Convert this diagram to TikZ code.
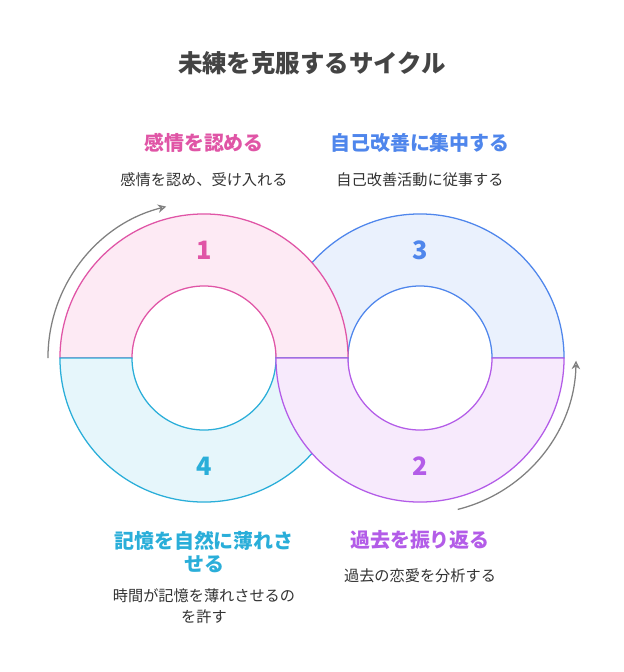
\documentclass[tikz,border=0pt]{standalone}
\usepackage{fontspec}
\setmainfont{Noto Sans CJK JP}
\usetikzlibrary{arrows.meta,calc}

\definecolor{pinkline}{HTML}{E055A6}
\definecolor{pinkfill}{HTML}{FDEAF4}
\definecolor{cyanline}{HTML}{2AAED9}
\definecolor{cyanfill}{HTML}{E6F6FB}
\definecolor{blueline}{HTML}{4F86EC}
\definecolor{bluefill}{HTML}{EAF1FD}
\definecolor{purpline}{HTML}{B35CE8}
\definecolor{purpfill}{HTML}{F7EAFC}
\definecolor{titlegray}{HTML}{444444}
\definecolor{descgray}{HTML}{333333}

\tikzset{
  head/.style = {font=\bfseries\fontsize{14.2}{17}\selectfont, align=center},
  desc/.style = {font=\fontsize{10.8}{15}\selectfont, text=descgray, align=center},
  num/.style  = {font=\bfseries\fontsize{18}{21}\selectfont},
  cycarrow/.style = {-{Stealth[length=6pt,width=6pt,open]}, gray, line width=0.9pt}
}

% half ring: center, start angle, fill, line
\newcommand{\halfring}[4]{%
  \draw[fill=#3, draw=#4, line width=0.9pt]
    ($(#1)+(#2:3.6cm)$) arc[start angle=#2, delta angle=-180, radius=3.6cm]
    -- ($(#1)+(#2-180:1.8cm)$) arc[start angle=#2-180, delta angle=180, radius=1.8cm]
    -- cycle;}

\begin{document}
\begin{tikzpicture}[x=0.025cm,y=0.025cm]
\useasboundingbox[fill=white] (0,0) rectangle (624,-672);

\coordinate (L) at (204,-358);
\coordinate (R) at (420,-358);

% rings
\halfring{R}{180}{bluefill}{blueline}
\halfring{L}{180}{pinkfill}{pinkline}
\halfring{L}{0}{cyanfill}{cyanline}
\halfring{R}{0}{purpfill}{purpline}

% cycle arrows
\draw[cycarrow] ($(L)+(180:3.9cm)$) arc[start angle=180, end angle=104, radius=3.9cm];
\draw[cycarrow] ($(R)+(-76:3.9cm)$) arc[start angle=-76, end angle=-1, radius=3.9cm];

\node[font=\bfseries\fontsize{17.4}{20}\selectfont, text=titlegray] (title) at (312,-63) {未練を克服するサイクル};

\node[num, text=pinkline] (n1) at (204,-250) {1};
\node[num, text=blueline] (n3) at (420,-250) {3};
\node[num, text=cyanline] (n4) at (204,-466) {4};
\node[num, text=purpline] (n2) at (420,-466) {2};

\node[head, text=pinkline] (h1) at (204,-143) {感情を認める};
\node[desc] (d1) at (204,-180) {感情を認め、受け入れる};
\node[head, text=blueline] (h3) at (420,-143) {自己改善に集中する};
\node[desc] (d3) at (420,-180) {自己改善活動に従事する};
\node[head, text=cyanline] (h4) at (204,-552) {記憶を自然に薄れさ\\せる};
\node[desc] (d4) at (204,-606) {時間が記憶を薄れさせるの\\を許す};
\node[head, text=purpline] (h2) at (420,-540) {過去を振り返る};
\node[desc] (d2) at (420,-576) {過去の恋愛を分析する};

\end{tikzpicture}
\end{document}
